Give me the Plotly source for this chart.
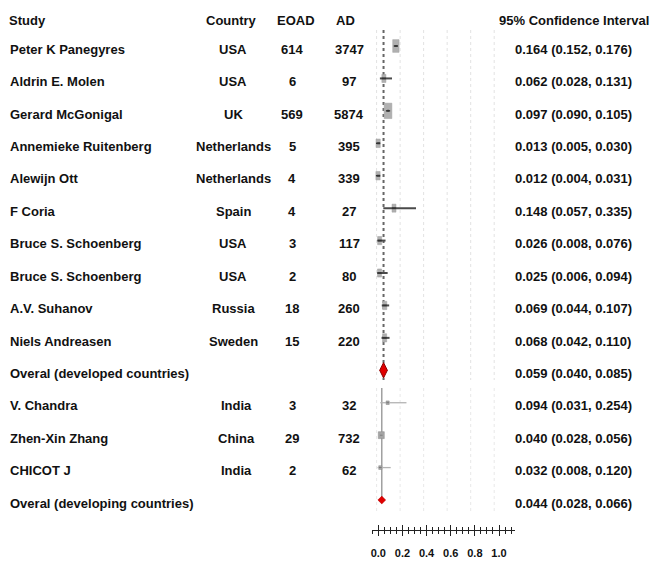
import numpy as np
import plotly.graph_objects as go

# ---------------- data ----------------
dev_study = ["Peter K Panegyres", "Aldrin E. Molen", "Gerard McGonigal", "Annemieke Ruitenberg",
             "Alewijn Ott", "F Coria", "Bruce S. Schoenberg", "Bruce S. Schoenberg",
             "A.V. Suhanov", "Niels Andreasen"]
dev_country = ["USA", "USA", "UK", "Netherlands", "Netherlands", "Spain", "USA", "USA", "Russia", "Sweden"]
dev_eoad = [614, 6, 569, 5, 4, 4, 3, 2, 18, 15]
dev_ad = [3747, 97, 5874, 395, 339, 27, 117, 80, 260, 220]
dev_est = [0.164, 0.062, 0.097, 0.013, 0.012, 0.148, 0.026, 0.025, 0.069, 0.068]
dev_lo = [0.152, 0.028, 0.090, 0.005, 0.004, 0.057, 0.008, 0.006, 0.044, 0.042]
dev_hi = [0.176, 0.131, 0.105, 0.030, 0.031, 0.335, 0.076, 0.094, 0.107, 0.110]
dev_overall_label = "Overal (developed countries)"
dev_overall = [0.059, 0.040, 0.085]

dvg_study = ["V. Chandra", "Zhen-Xin Zhang", "CHICOT J"]
dvg_country = ["India", "China", "India"]
dvg_eoad = [3, 29, 2]
dvg_ad = [32, 732, 62]
dvg_est = [0.094, 0.040, 0.032]
dvg_lo = [0.031, 0.028, 0.008]
dvg_hi = [0.254, 0.056, 0.120]
dvg_overall_label = "Overal (developing countries)"
dvg_overall = [0.044, 0.028, 0.066]

headers = ["Study", "Country", "EOAD", "AD", "95% Confidence Interval"]
axis_ticks = [0.0, 0.2, 0.4, 0.6, 0.8, 1.0]

# ---------------- layout helpers ----------------
W, H = 655, 563
ROW0, ROWH = 46.0, 32.43          # pixel y of first row, pixel spacing of rows
X0, XS = 376.6, 117.6             # pixel x of value 0, pixels per unit


def prow(p):
    return (p - ROW0) / ROWH


def px(p):
    return p / W


FONT = "Liberation Sans, Arial, sans-serif"

n_dev = len(dev_study)
dev_rows = np.arange(n_dev)
dev_ov_row = n_dev
dvg_rows = np.arange(len(dvg_study)) + n_dev + 1
dvg_ov_row = dvg_rows[-1] + 1

dev_est_a, dev_lo_a, dev_hi_a = map(np.array, (dev_est, dev_lo, dev_hi))
dvg_est_a, dvg_lo_a, dvg_hi_a = map(np.array, (dvg_est, dvg_lo, dvg_hi))

# box sizes from study weight (AD count)
dev_w_px = 4 + 3.7 * np.array(dev_ad) / max(dev_ad)
dev_h_px = 2.0 * dev_w_px
dvg_w_px = 3 + 3.0 * np.array(dvg_ad) / max(dvg_ad)
dvg_h_px = 1.15 * dvg_w_px

fig = go.Figure()

# developed boxes
fig.add_trace(go.Bar(
    orientation="h", y=dev_rows, x=dev_w_px / XS, base=dev_est_a - dev_w_px / XS / 2,
    width=dev_h_px / ROWH, marker=dict(color="#b0b0b0", line=dict(color="#a0a0a0", width=0.5)),
    hoverinfo="skip", showlegend=False))
# developed CIs
fig.add_trace(go.Scatter(
    x=dev_est_a, y=dev_rows, mode="markers",
    error_x=dict(type="data", symmetric=False, array=dev_hi_a - dev_est_a,
                 arrayminus=dev_est_a - dev_lo_a, color="#4a4a4a", thickness=2, width=0),
    marker=dict(symbol="line-ew", size=3, line=dict(width=1.5, color="#333333")),
    hoverinfo="skip", showlegend=False))

# developing boxes
fig.add_trace(go.Bar(
    orientation="h", y=dvg_rows, x=dvg_w_px / XS, base=dvg_est_a - dvg_w_px / XS / 2,
    width=dvg_h_px / ROWH, marker=dict(color="#a5a5a5", line=dict(color="#8a8a8a", width=0.5)),
    hoverinfo="skip", showlegend=False))
fig.add_trace(go.Scatter(
    x=dvg_est_a, y=dvg_rows, mode="markers",
    error_x=dict(type="data", symmetric=False, array=dvg_hi_a - dvg_est_a,
                 arrayminus=dvg_est_a - dvg_lo_a, color="#b3b3b3", thickness=1.3, width=0),
    marker=dict(symbol="line-ew", size=2, line=dict(width=1, color="#777777")),
    hoverinfo="skip", showlegend=False))

# overall diamonds
fig.add_trace(go.Scatter(
    x=[dev_overall[0]], y=[dev_ov_row], mode="markers",
    marker=dict(symbol="diamond-tall", size=11, color="#e00000", line=dict(color="#8b0000", width=1)),
    hoverinfo="skip", showlegend=False))
fig.add_trace(go.Scatter(
    x=[dvg_overall[0]], y=[dvg_ov_row], mode="markers",
    marker=dict(symbol="diamond", size=6, color="#e00000", line=dict(color="#b00000", width=0.5)),
    hoverinfo="skip", showlegend=False))

# invisible anchors for bottom axis
for ax in ("x2", "x3"):
    fig.add_trace(go.Scatter(x=[0.5], y=[prow(530)], xaxis=ax, yaxis="y", mode="markers",
                             marker=dict(opacity=0), hoverinfo="skip", showlegend=False))

shapes = []
# gridlines panel 1 and panel 2
for t in axis_ticks:
    shapes.append(dict(type="line", xref="x", yref="y", x0=t, x1=t, y0=prow(30), y1=prow(380),
                       line=dict(color="#e2e2e2", width=1, dash="dot"), layer="below"))
    shapes.append(dict(type="line", xref="x", yref="y", x0=t, x1=t, y0=prow(388), y1=prow(512),
                       line=dict(color="#e8e8e8", width=1, dash="dot"), layer="below"))
# reference lines at overall estimates
shapes.append(dict(type="line", xref="x", yref="y", x0=dev_overall[0], x1=dev_overall[0],
                   y0=prow(30), y1=prow(380), line=dict(color="#666666", width=2, dash="dot"),
                   layer="below"))
shapes.append(dict(type="line", xref="x", yref="y", x0=dvg_overall[0], x1=dvg_overall[0],
                   y0=prow(388), y1=prow(503), line=dict(color="#a0a0a0", width=1.5),
                   layer="below"))

ann = []


def txt(x, y, s, anchor="center"):
    ann.append(dict(xref="paper", yref="y", x=px(x), y=y, text="<b>%s</b>" % s, showarrow=False,
                    xanchor=anchor, yanchor="middle",
                    font=dict(family=FONT, size=13, color="#111111")))


hy = prow(20)
txt(7, hy, headers[0], "left")
txt(231, hy, headers[1])
txt(296, hy, headers[2])
txt(346, hy, headers[3])
txt(574, hy, headers[4])

TOFF = 0.1


def ci_str(e, l, h):
    return "%.3f (%.3f, %.3f)" % (e, l, h)


COL_C, COL_E, COL_A, COL_CI = 233, 292, 349, 573
for i in range(n_dev):
    r = dev_rows[i] + TOFF
    txt(8, r, dev_study[i], "left")
    txt(COL_C, r, dev_country[i])
    txt(COL_E, r, dev_eoad[i])
    txt(COL_A, r, dev_ad[i])
    txt(COL_CI, r, ci_str(dev_est[i], dev_lo[i], dev_hi[i]))
txt(8, dev_ov_row + TOFF, dev_overall_label, "left")
txt(COL_CI, dev_ov_row + TOFF, ci_str(*dev_overall))
for i in range(len(dvg_study)):
    r = dvg_rows[i] + TOFF
    txt(8, r, dvg_study[i], "left")
    txt(COL_C + 3, r, dvg_country[i])
    txt(COL_E, r, dvg_eoad[i])
    txt(COL_A, r, dvg_ad[i])
    txt(COL_CI, r, ci_str(dvg_est[i], dvg_lo[i], dvg_hi[i]))
txt(8, dvg_ov_row + TOFF, dvg_overall_label, "left")
txt(COL_CI, dvg_ov_row + TOFF, ci_str(*dvg_overall))

# bottom axis mapping
AX_L, AX_R = 371.7, 515.0
AX0, AXS = 378.3, 120.7
ax_dom = [px(AX_L), px(AX_R)]
ax_rng = [(AX_L - AX0) / AXS, (AX_R - AX0) / AXS]
ax_pos = 1 - 530 / H

fig.update_layout(
    width=W, height=H, margin=dict(l=0, r=0, t=0, b=0),
    paper_bgcolor="white", plot_bgcolor="rgba(0,0,0,0)", barmode="overlay", showlegend=False,
    xaxis=dict(domain=[0, 1], range=[(0 - X0) / XS, (W - X0) / XS], visible=False),
    yaxis=dict(domain=[0, 1], range=[prow(H), prow(0)], visible=False),
    xaxis2=dict(domain=ax_dom, range=ax_rng, anchor="free", position=ax_pos,
                showline=True, linecolor="#222222", linewidth=1, showgrid=False, zeroline=False,
                ticks="outside", ticklen=5, tickwidth=1, tickcolor="#222222",
                tickvals=axis_ticks, ticktext=["<b>%.1f</b>" % t for t in axis_ticks],
                tickfont=dict(family=FONT, size=11, color="#111111"), ticklabelstandoff=8,
                minor=dict(ticks="outside", ticklen=3, tickwidth=1, tickcolor="#222222",
                           dtick=0.05, tick0=0, showgrid=False)),
    xaxis3=dict(domain=ax_dom, range=ax_rng, anchor="free", position=ax_pos, overlaying="x2",
                showline=False, showgrid=False, zeroline=False, showticklabels=False,
                ticks="inside", ticklen=5, tickwidth=1, tickcolor="#222222", tickvals=axis_ticks,
                minor=dict(ticks="inside", ticklen=3, tickwidth=1, tickcolor="#222222",
                           dtick=0.05, tick0=0, showgrid=False)),
    shapes=shapes, annotations=ann,
)

fig.write_html("out.html")
